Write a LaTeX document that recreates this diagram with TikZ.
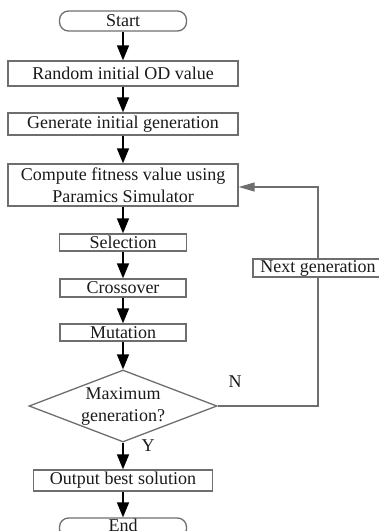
\documentclass[tikz,border=0pt]{standalone}
\usepackage{fontspec}
\setmainfont{Liberation Serif}
\usetikzlibrary{shapes.geometric,arrows.meta}
\definecolor{boxgray}{HTML}{6E6E6E}
\definecolor{txt}{HTML}{1A1A1A}
\tikzset{
  base/.style={draw=boxgray, line width=1.3pt, text=txt, inner sep=0pt,
    font=\fontsize{18pt}{22pt}\selectfont, align=center},
  procbox/.style={base, rectangle},
  termbox/.style={base, rectangle, rounded corners=9pt},
  decbox/.style={base, diamond},
  arr/.style={draw=black, line width=1.6pt, -{Triangle[length=15pt,width=12pt]}},
  looparr/.style={draw=boxgray, line width=1.3pt, -{Triangle[length=16pt,width=9pt]}},
  loopline/.style={draw=boxgray, line width=1.3pt},
  lbl/.style={text=txt, font=\fontsize{18pt}{22pt}\selectfont, inner sep=0pt}
}
\begin{document}
\begin{tikzpicture}[x=1pt,y=-1pt]
\clip (0,0) rectangle (379,531);
\node[termbox, minimum width=127pt, minimum height=20pt] (start) at (123,21) {Start};
\node[procbox, minimum width=230pt, minimum height=25pt] (rand) at (123,73.5) {Random initial OD value};
\node[procbox, minimum width=230pt, minimum height=22pt] (gen) at (123,124) {Generate initial generation};
\node[procbox, minimum width=230pt, minimum height=42pt] (comp) at (123,185) {Compute fitness value using\\Paramics Simulator};
\node[procbox, minimum width=127pt, minimum height=17pt] (sel) at (123,242.5) {Selection};
\node[procbox, minimum width=126pt, minimum height=18pt] (cross) at (123,288) {Crossover};
\node[procbox, minimum width=126pt, minimum height=17pt] (mut) at (123,332.5) {Mutation};
\node[decbox, minimum width=188pt, minimum height=72pt,
  label={[lbl, align=center]center:Maximum\\generation?}] (dec) at (123,406) {};
\node[procbox, minimum width=179pt, minimum height=21pt] (out) at (123,480.5) {Output best solution};
\node[termbox, minimum width=127pt, minimum height=20pt, text depth=6pt] (end) at (123,528) {End};
\node[procbox, minimum width=130pt, minimum height=18pt] (next) at (318,268) {Next generation};
\coordinate (c1) at (318,406);
\coordinate (c2) at (318,187);
\node[lbl] (nlab) at (235,382) {N};
\node[lbl] (ylab) at (148,446) {Y};

\draw[arr] (start) -- (rand);
\draw[arr] (rand) -- (gen);
\draw[arr] (gen) -- (comp);
\draw[arr] (comp) -- (sel);
\draw[arr] (sel) -- (cross);
\draw[arr] (cross) -- (mut);
\draw[arr] (mut) -- (dec);
\draw[arr] (dec) -- (out);
\draw[arr] (out) -- (end);
\draw[loopline] (dec.east) -- (c1) -- (next.south);
\draw[looparr] (next.north) -- (c2) -- (comp.east |- c2);
\end{tikzpicture}
\end{document}
